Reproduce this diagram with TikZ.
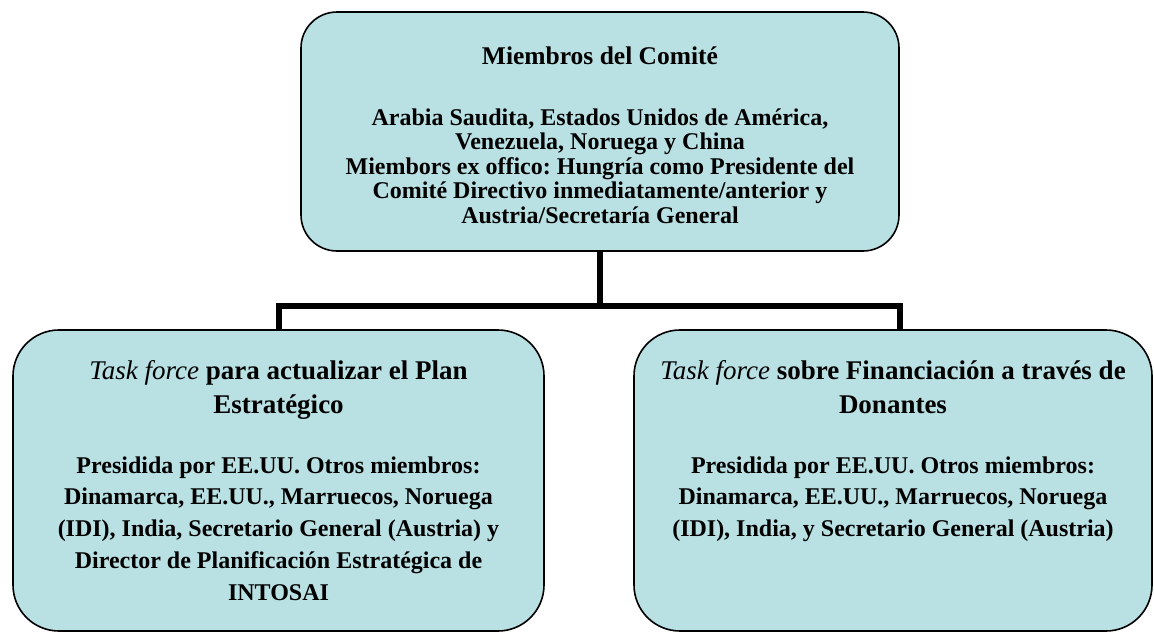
\documentclass[tikz,border=0pt]{standalone}
\usepackage{fontspec}
\setmainfont{Liberation Serif}
\usetikzlibrary{positioning,calc}
\definecolor{boxcyan}{RGB}{185,224,227}
\frenchspacing

\begin{document}
\begin{tikzpicture}[x=1pt,y=-1pt,
	box/.style={draw, line width=1.6pt, fill=boxcyan, inner sep=0pt},
	toptitle/.style={align=center, inner sep=0pt, font=\bfseries\fontsize{25.5}{30}\selectfont},
	toptxt/.style={align=center, inner sep=0pt, font=\bfseries\fontsize{24}{24.5}\selectfont},
	lowtitle/.style={align=center, inner sep=0pt, font=\bfseries\fontsize{27}{34}\selectfont},
	lowtxt/.style={align=center, inner sep=0pt, font=\bfseries\fontsize{24}{31.75}\selectfont},
	link/.style={line width=5.5pt}]
	\useasboundingbox (0,0) rectangle (1154,632);
	\node[box, rounded corners=36pt, minimum width=598pt, minimum height=239pt] (comite) at (600,131.5) {};
	\node[box, rounded corners=46pt, minimum width=531pt, minimum height=301pt] (plan) at (278.5,480.5) {};
	\node[box, rounded corners=46pt, minimum width=518pt, minimum height=301pt] (donantes) at (893,480.5) {};
%
	\node[toptitle, below=35pt of comite.north] (comitetitle) {Miembros del Comité};
	\node[toptxt, below=97pt of comite.north] (comitetxt) {Arabia Saudita, Estados Unidos de América,\\
		Venezuela, Noruega y China\\
		Miembors ex offico: Hungría como Presidente del\\
		Comité Directivo inmediatamente/anterior y\\
		Austria/Secretaría General};
	\node[lowtitle, below=31pt of plan.north] (plantitle) {\textit{\mdseries Task force} para actualizar el Plan\\
		Estratégico};
	\node[lowtxt, below=127pt of plan.north] (plantxt) {Presidida por EE.UU. Otros miembros:\\
		Dinamarca, EE.UU., Marruecos, Noruega\\
		(IDI), India, Secretario General (Austria) y\\
		Director de Planificación Estratégica de\\
		INTOSAI};
	\node[lowtitle, below=31pt of donantes.north] (donantestitle) {\textit{\mdseries Task force} sobre Financiación a través de\\
		Donantes};
	\node[lowtxt, below=127pt of donantes.north] (donantestxt) {Presidida por EE.UU. Otros miembros:\\
		Dinamarca, EE.UU., Marruecos, Noruega\\
		(IDI), India, y Secretario General (Austria)};
%
	\coordinate (split) at (600,306);
	\coordinate (dropL) at (279,330);
	\coordinate (dropR) at (900,330);
	\draw[link] (comite.south) -- (split);
	\draw[link, line cap=rect] (dropL |- split) -- (dropR |- split);
	\draw[link] (dropL |- split) -- (dropL);
	\draw[link] (dropR |- split) -- (dropR);
\end{tikzpicture}
\end{document}
